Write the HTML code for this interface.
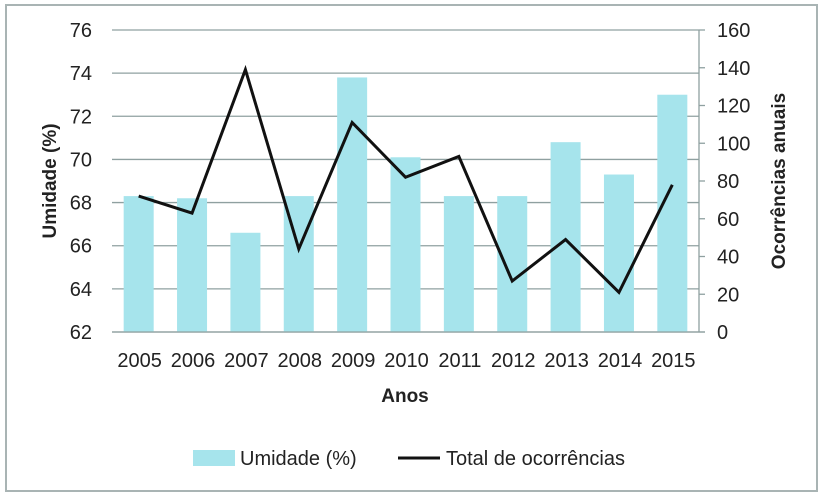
<!DOCTYPE html>
<html><head><meta charset="utf-8"><style>
html,body{margin:0;padding:0;background:#fff;}
svg{display:block;font-family:"Liberation Sans",sans-serif;}
</style></head><body>
<svg id="c" width="822" height="499">
<rect x="6" y="5" width="811" height="486" fill="#fff" stroke="#a9b4b4" stroke-width="2"/>
<g id="g"></g>
</svg>
<script>
const categories=["2005","2006","2007","2008","2009","2010","2011","2012","2013","2014","2015"];
const humidity=[68.3,68.2,66.6,68.3,73.8,70.1,68.3,68.3,70.8,69.3,73.0];
const occurrences=[72,63,139,44,111,82,93,27,49,21,78];
const leftTicks=[62,64,66,68,70,72,74,76];
const rightTicks=[0,20,40,60,80,100,120,140,160];
const NS="http://www.w3.org/2000/svg";
const g=document.getElementById('g');
const L=112,R=699,T=30,B=332;
const bw=(R-L)/categories.length;
const yL=v=>B-(v-62)/(76-62)*(B-T);
const yR=v=>B-v/160*(B-T);
const xC=i=>L+bw*(i+0.5);
function mk(t,a,txt){const e=document.createElementNS(NS,t);for(const k in a)e.setAttribute(k,a[k]);if(txt!==undefined)e.textContent=txt;g.appendChild(e);return e;}
leftTicks.forEach(v=>{
  const l=mk('line',{x1:L,x2:R,y1:yL(v),y2:yL(v),stroke:'#8fa0a0','stroke-width':1.3});
  
  
  const t=mk('text',{x:92,y:yL(v)+7,'text-anchor':'end','font-size':20,fill:'#222'},String(v));
  
  
});
categories.forEach((c,i)=>{
  const b=mk('rect',{x:xC(i)-15,y:yL(humidity[i]),width:30,height:B-yL(humidity[i]),fill:'#a6e4ec'});
  
  
  const t=mk('text',{x:xC(i)+1,y:367,'text-anchor':'middle','font-size':20,fill:'#222'},c);
  
  
});
const ax=mk('line',{x1:R,x2:R,y1:T,y2:B,stroke:'#8fa0a0','stroke-width':1.3});


const bx=mk('line',{x1:L,x2:R+6,y1:B,y2:B,stroke:'#8fa0a0','stroke-width':1.3});


rightTicks.forEach(v=>{
  const l=mk('line',{x1:R,x2:R+6,y1:yR(v),y2:yR(v),stroke:'#8fa0a0','stroke-width':1.3});
  
  
  const t=mk('text',{x:717,y:yR(v)+7,'font-size':20,fill:'#222'},String(v));
  
  
});
const pl=mk('polyline',{points:occurrences.map((v,i)=>xC(i)+','+yR(v)).join(' '),fill:'none',stroke:'#111','stroke-width':3,'stroke-linejoin':'miter'});


const yt=mk('text',{transform:'translate(56,181) rotate(-90)','text-anchor':'middle','font-size':19,'font-weight':'bold',fill:'#222'},'Umidade  (%)');


const yt2=mk('text',{transform:'translate(785,181) rotate(-90)','text-anchor':'middle','font-size':19,'font-weight':'bold',fill:'#222'},'Ocorrências anuais');


const xt=mk('text',{x:405,y:402,'text-anchor':'middle','font-size':19,'font-weight':'bold',fill:'#222'},'Anos');


const lg1=mk('rect',{x:193,y:450,width:42,height:16,fill:'#a6e4ec'});


const lt1=mk('text',{x:240,y:465,'font-size':20,fill:'#222'},'Umidade  (%)');


const lg2=mk('line',{x1:398,x2:440,y1:458,y2:458,stroke:'#111','stroke-width':3});


const lt2=mk('text',{x:446,y:465,'font-size':20,fill:'#222'},'Total de ocorrências');


</script>
</body></html>
